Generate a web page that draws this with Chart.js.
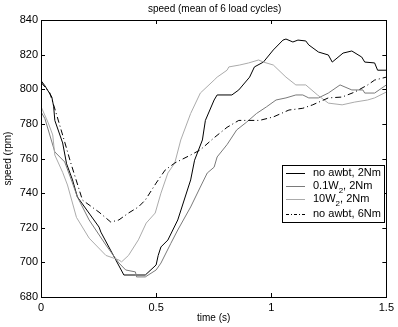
<!DOCTYPE html>
<html>
<head>
<meta charset="utf-8">
<script src="https://cdn.jsdelivr.net/npm/chart.js@4/dist/chart.umd.min.js"></script>
<style>
html,body{margin:0;padding:0;background:#fff;}
#wrap{width:398px;height:327px;}
</style>
</head>
<body>
<div id="wrap"><canvas id="c" width="398" height="327"></canvas></div>
<script>
// ---- data ----
const titleText = "speed (mean of 6 load cycles)";
const xTitle = "time (s)";
const yTitle = "speed (rpm)";
const xTicks = [0, 0.5, 1, 1.5];
const xTickLabels = ["0", "0.5", "1", "1.5"];
const yTicks = [680, 700, 720, 740, 760, 780, 800, 820, 840];

const tBlack = [0,0.017,0.047,0.055,0.06,0.094,0.111,0.137,0.158,0.252,0.26,0.36,0.41,0.453,0.5,0.509,0.521,0.551,0.594,0.65,0.667,0.701,0.714,0.752,0.765,0.829,0.859,0.906,0.927,0.966,1.009,1.051,1.064,1.094,1.116,1.15,1.163,1.205,1.248,1.265,1.312,1.35,1.393,1.406,1.449,1.462,1.5];
const vBlack = [805,802,795.5,790,782,769,757,747.6,737.8,720.4,717.5,692.7,692.7,692.7,698.5,704,708.9,712.9,724.5,747.6,759,770.7,782,793.8,796.7,796.7,799.6,807,812.9,815.7,822.7,828.4,829,827.3,828.4,827.9,825.6,821.5,819.8,815.7,820.9,822.1,818.6,815.7,815.2,811,811];

const tMid = [0,0.017,0.06,0.103,0.132,0.158,0.209,0.282,0.338,0.368,0.41,0.415,0.453,0.5,0.521,0.564,0.594,0.65,0.692,0.722,0.752,0.765,0.808,0.85,0.893,0.936,0.979,1.021,1.064,1.107,1.137,1.163,1.205,1.248,1.299,1.35,1.398,1.406,1.449,1.5];
const vMid = [787,783,763.8,758,747.6,737.8,724.5,710,699.7,695.6,694.5,691.6,691.6,695.6,699.6,711,718.7,732,743.5,751.6,755,760.9,768,776.5,781,786,789.8,793.8,795,796.7,796.7,795,795,797.8,802.5,799.6,799.6,797.8,797.8,802.5];

const tLight = [0,0.03,0.051,0.06,0.094,0.115,0.154,0.209,0.282,0.338,0.35,0.38,0.423,0.457,0.496,0.521,0.551,0.581,0.607,0.65,0.692,0.752,0.765,0.808,0.816,0.863,0.902,0.945,0.966,1.009,1.064,1.107,1.15,1.201,1.248,1.308,1.363,1.419,1.449,1.5];
const vLight = [790,781,773.6,762,752,744.7,726,714,704,701.4,700.3,704,713,722.7,728.5,740,751.6,757.4,770.7,786,797.8,805.3,807,811,812.9,814,815.2,816.9,815.7,814,807,802.5,802.5,796.7,792,791,792.6,793.8,795,798.4];

const tDash = [0,0.038,0.064,0.103,0.128,0.15,0.18,0.252,0.303,0.338,0.38,0.423,0.453,0.5,0.539,0.581,0.65,0.692,0.752,0.808,0.859,0.949,1.009,1.077,1.137,1.18,1.248,1.308,1.363,1.419,1.449,1.5];
const vDash = [804,798,787,769.5,758,748.7,736,729,723.3,724.5,728.5,732,736,745.8,753.3,757.4,762,765,772,778,782,782,784,788,789,791,795,795.5,798.4,802.5,805.3,807];

const seriesNames = ["no awbt, 2Nm", "0.1W|2|, 2Nm", "10W|2|, 2Nm", "no awbt, 6Nm"];

// ---- build ----
function pts(t, v){ return t.map((x,i)=>({x:x, y:v[i]})); }
const FONT = "'Liberation Sans', Arial, Helvetica, sans-serif";

const styles = [
  {color:'#000000', dash:[]},
  {color:'#7a7a7a', dash:[]},
  {color:'#ababab', dash:[]},
  {color:'#000000', dash:[6,3,1,3]}
];
const dataSets = [[tBlack,vBlack],[tMid,vMid],[tLight,vLight],[tDash,vDash]];

const boxPlugin = {
  id:'boxPlugin',
  afterDraw(chart){
    const ctx = chart.ctx, a = chart.chartArea;
    const xs = chart.scales.x, ys = chart.scales.y;
    ctx.save();
    ctx.strokeStyle = '#000'; ctx.lineWidth = 1;
    ctx.strokeRect(Math.round(a.left)+0.5, Math.round(a.top)+0.5, Math.round(a.right-a.left), Math.round(a.bottom-a.top));
    const L = 4;
    ctx.beginPath();
    xTicks.forEach(v=>{
      const px = Math.round(xs.getPixelForValue(v))+0.5;
      ctx.moveTo(px, a.bottom); ctx.lineTo(px, a.bottom-L);
      ctx.moveTo(px, a.top); ctx.lineTo(px, a.top+L);
    });
    yTicks.forEach(v=>{
      const py = Math.round(ys.getPixelForValue(v))+0.5;
      ctx.moveTo(a.left, py); ctx.lineTo(a.left+L, py);
      ctx.moveTo(a.right, py); ctx.lineTo(a.right-L, py);
    });
    ctx.stroke();
    // title
    ctx.fillStyle = '#000';
    ctx.font = '10px ' + FONT;
    ctx.textAlign = 'center'; ctx.textBaseline = 'middle';
    ctx.fillText(titleText, (a.left+a.right)/2 + 1, 9);
    // legend
    const lx = 282, ly = 165, lw = 102, lh = 57;
    ctx.fillStyle = '#fff';
    ctx.fillRect(lx, ly, lw, lh);
    ctx.strokeStyle = '#000'; ctx.lineWidth = 1;
    ctx.strokeRect(lx+0.5, ly+0.5, lw, lh);
    const rows = [173, 185.5, 199, 214];
    seriesNames.forEach((name,i)=>{
      const y = rows[i];
      ctx.strokeStyle = styles[i].color;
      ctx.setLineDash(styles[i].dash.length ? [3,2,1,2] : []);
      ctx.beginPath(); ctx.moveTo(286, Math.round(y)+0.5); ctx.lineTo(305, Math.round(y)+0.5); ctx.stroke();
      ctx.setLineDash([]);
      ctx.fillStyle = '#000';
      ctx.textAlign = 'left'; ctx.textBaseline = 'middle';
      const parts = name.split('|');
      let x = 313;
      parts.forEach((p,j)=>{
        if (j % 2 === 1){
          ctx.font = '8px ' + FONT;
          ctx.fillText(p, x, y+5);
        } else {
          ctx.font = '11px ' + FONT;
          ctx.fillText(p, x, y);
        }
        x += ctx.measureText(p).width;
      });
    });
    ctx.restore();
  }
};

new Chart(document.getElementById('c'), {
  type:'line',
  data:{
    datasets: dataSets.map((d,i)=>({
      label: seriesNames[i].replace(/\|/g,''),
      data: pts(d[0], d[1]),
      borderColor: styles[i].color,
      borderDash: styles[i].dash,
      borderWidth: 1,
      pointRadius: 0,
      tension: 0,
      fill: false
    })).reverse()
  },
  options:{
    responsive:false,
    animation:false,
    devicePixelRatio:1,
    layout:{padding:{top:20,right:6,left:0,bottom:0}},
    plugins:{legend:{display:false}, title:{display:false}, tooltip:{enabled:false}},
    scales:{
      x:{
        type:'linear', min:0, max:1.5,
        afterBuildTicks(s){ s.ticks = xTicks.map(v=>({value:v})); },
        afterFit(s){ s.height = 30; },
        grid:{display:false, drawTicks:false},
        border:{display:false},
        ticks:{padding:4, color:'#000', font:{family:FONT, size:11}, maxRotation:0,
          callback:(v)=>{ const i = xTicks.indexOf(v); return i >= 0 ? xTickLabels[i] : ''; }},
        title:{display:true, text:xTitle, color:'#000', font:{family:FONT, size:10}, padding:{top:0,bottom:3}}
      },
      y:{
        type:'linear', min:680, max:840,
        afterBuildTicks(s){ s.ticks = yTicks.map(v=>({value:v})); },
        afterFit(s){ s.width = 41; },
        grid:{display:false, drawTicks:false},
        border:{display:false},
        ticks:{padding:3, color:'#000', font:{family:FONT, size:11}},
        title:{display:true, text:yTitle, color:'#000', font:{family:FONT, size:10}, padding:{top:2,bottom:0}}
      }
    }
  },
  plugins:[boxPlugin]
});
</script>
</body>
</html>
